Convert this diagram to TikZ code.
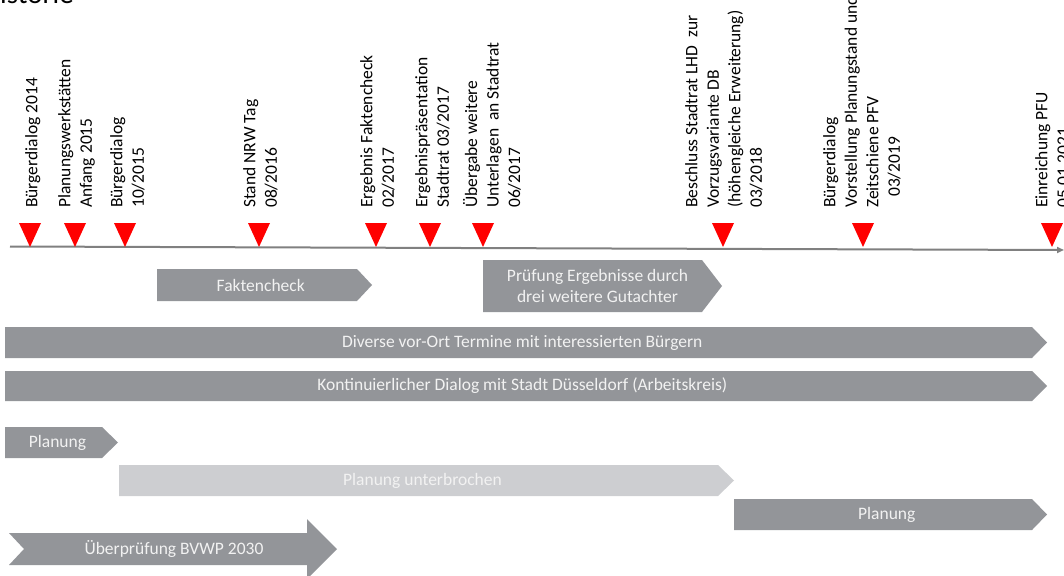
\documentclass[tikz,border=0pt]{standalone}
\usepackage{fontspec}
\setmainfont{Carlito}
\usetikzlibrary{arrows.meta}
\definecolor{bargray}{HTML}{939599}
\definecolor{barlight}{HTML}{CDCED1}
\definecolor{axisgray}{HTML}{808080}
\tikzset{
  pics/phase/.style n args={5}{
    code = {
        \fill[#5] (0,0) -- ({#1-#3},0) -- (#1,{#2/2}) -- ({#1-#3},#2) -- (0,#2) -- cycle;
        \node [bartext] (-t) at ({#1/2-#3/4},{#2/2}) {#4};
    }
  },
  bartext/.style={text=white!95!black, font=\fontsize{17.5}{21}\selectfont, align=center, inner sep=0pt},
  milestone/.style={rotate=90, anchor=north west, align=left, inner sep=0pt, font=\fontsize{17.5}{21.5}\selectfont}
}

\begin{document}
\begin{tikzpicture}[x=1pt, y=-1pt]
            \useasboundingbox (0,0) rectangle (1064,575);
            \node [anchor=base west, inner sep=0pt, font=\fontsize{29}{33}\selectfont] (title) at (0,4) {istorie};

            % time axis
            \coordinate (start) at (10,246.5);
            \coordinate (end) at (1064,250);
            \draw [axisgray, line width=2pt, -{Triangle[length=7pt,width=6pt]}] (start) -- (end);

            % milestones
            \foreach \mx/\lx/\txt [count=\i] in {
                30/25/{Bürgerdialog 2014},
                75/58/{Planungswerkstätten\\Anfang 2015},
                125/110/{Bürgerdialog\\10/2015},
                259/243/{Stand NRW Tag\\08/2016},
                376/360/{Ergebnis Faktencheck\\02/2017},
                430/415/{Ergebnispräsentation\\Stadtrat 03/2017},
                483/463/{Übergabe weitere\\Unterlagen\ \ an Stadtrat\\06/2017},
                723/685/{Beschluss Stadtrat LHD\ \ zur\\Vorzugsvariante DB\\(höhengleiche Erweiterung)\\03/2018},
                863/823/{Bürgerdialog\\Vorstellung Planungstand und\\Zeitschiene PFV\\\hspace*{11pt}03/2019},
                1052/1035/{Einreichung PFU\\05.01.2021}} {
                \fill [red] (\mx-11,223) -- (\mx+11,223) -- (\mx,247) -- cycle;
                \node [milestone] (m\i) at (\lx,208) {\txt};
            }

            % phases
            \pic (fakt) at (157,269) {phase={215}{32}{15}{Faktencheck}{bargray}};
            \pic (pruef) at (483,260) {phase={239}{52}{20}{Prüfung Ergebnisse durch\\drei weitere Gutachter}{bargray}};
            \pic (vorort) at (5,327) {phase={1042}{31}{15}{Diverse vor-Ort Termine mit interessierten Bürgern}{bargray}};
            \pic (dialog) at (5,371) {phase={1042}{30}{15}{Kontinuierlicher Dialog mit Stadt Düsseldorf (Arbeitskreis)}{bargray}};
            \pic (plan) at (5,427) {phase={113}{31}{16}{Planung}{bargray}};
            \pic (pause) at (119,465) {phase={615}{31}{16}{Planung unterbrochen}{barlight}};
            \pic (replan) at (734,499) {phase={313}{31}{15}{Planung}{bargray}};

            \fill [bargray] (9,533) -- (307,533) -- (307,519) -- (337,549) -- (307,579) -- (307,565) -- (9,565) -- (24,549) -- cycle;
            \node [bartext] (bvwp) at (174,549) {Überprüfung BVWP 2030};
        \end{tikzpicture}
\end{document}
